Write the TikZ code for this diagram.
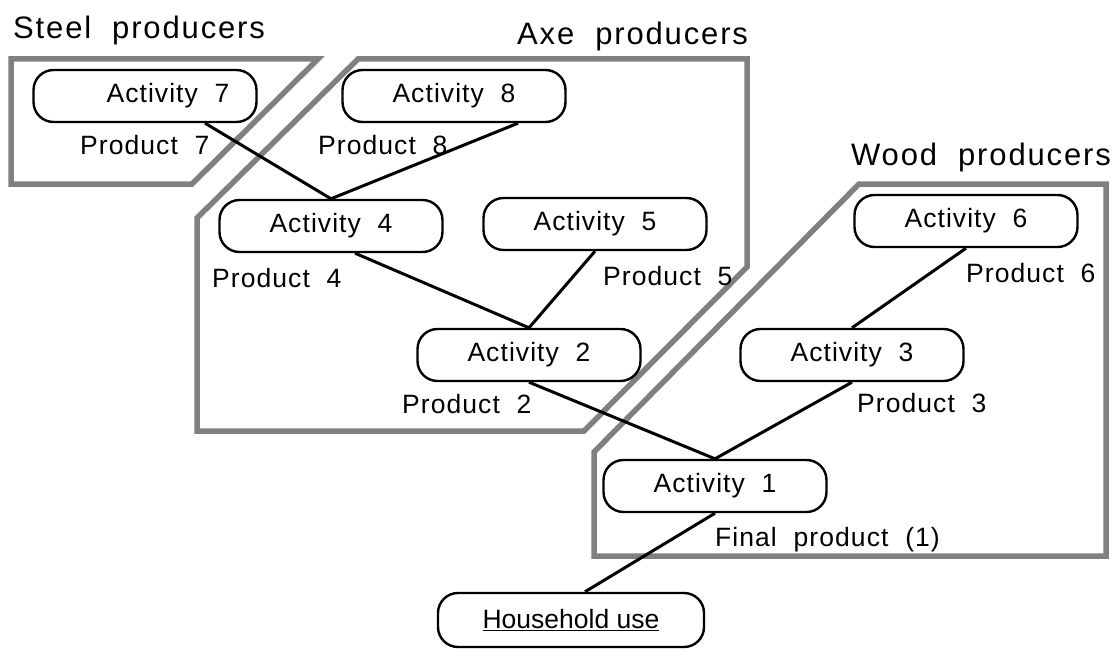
\documentclass[tikz,border=0pt]{standalone}
\usepackage{fontspec}
\setmainfont{Liberation Sans}
\newfontfamily\titlefont{Liberation Sans}[LetterSpace=6]
\newfontfamily\boxfont{Liberation Sans}[LetterSpace=4]

\begin{document}
\begin{tikzpicture}[x=1pt,y=-1pt,
  actK/.style={draw, line width=2.4pt, rounded corners=20pt, fill=white,
    minimum width=223pt, minimum height=52pt, inner sep=0pt,
    font=\boxfont\fontsize{26.5}{30}\selectfont},
  prodK/.style={anchor=base west, inner sep=0pt,
    font=\boxfont\fontsize{26.5}{30}\selectfont},
  groupK/.style={anchor=base west, inner sep=0pt,
    font=\titlefont\fontsize{31}{36}\selectfont},
  bandK/.style={draw=black!50, line width=5.5pt},
  linkK/.style={draw, line width=3pt}]

\useasboundingbox (0,0) rectangle (1114,650);

\begin{scope}
\draw [bandK] (11,59) -- (318,59) -- (192,184) -- (11,184) -- cycle;
\draw [bandK] (358,59) -- (747,59) -- (747,267) -- (584,431) -- (197,431) -- (197,218) -- cycle;
\draw [bandK] (859,184) -- (1106,184) -- (1106,556) -- (594,556) -- (594,452) -- cycle;

\node [groupK] (steel) at (13,39) {Steel~~producers};
\node [groupK] (axe) at (517,45) {Axe~~producers};
\node [groupK] (wood) at (851,165) {Wood~~producers};
\end{scope}

\node [actK] (act7) at (145,96) {\hspace*{46pt}Activity~~7};
\node [actK] (act8) at (454,96) {Activity~~8};
\node [actK] (act4) at (331,226) {Activity~~4};
\node [actK] (act5) at (595,224) {Activity~~5};
\node [actK] (act2) at (529,355) {Activity~~2};
\node [actK] (act6) at (966,221) {Activity~~6};
\node [actK] (act3) at (852,355) {Activity~~3};
\node [actK] (act1) at (715,486) {Activity~~1};
\node [actK, minimum width=266pt, minimum height=54pt, font=\fontsize{26.5}{30}\selectfont] (house) at (571,620) {\underline{Household use}};

\node [prodK] (prod7) at (80,155) {Product~~7};
\node [prodK] (prod8) at (318,155) {Product~~8};
\node [prodK] (prod4) at (212,287) {Product~~4};
\node [prodK] (prod5) at (603,285) {Product~~5};
\node [prodK] (prod2) at (402,413) {Product~~2};
\node [prodK] (prod6) at (966,282) {Product~~6};
\node [prodK] (prod3) at (857,412) {Product~~3};
\node [prodK] (prodF) at (715,546) {Final~~product~~(1)};

\draw [linkK] ([xshift=60pt]act7.south) -- (act4.north);
\draw [linkK] ([xshift=64pt]act8.south) -- (act4.north);
\draw [linkK] ([xshift=24pt]act4.south) -- (act2.north);
\draw [linkK] (act5.south) -- (act2.north);
\draw [linkK] (act2.south) -- (act1.north);
\draw [linkK] (act3.south) -- (act1.north);
\draw [linkK] (act6.south) -- (act3.north);
\draw [linkK] (act1.south) -- ([xshift=14pt]house.north);

\end{tikzpicture}
\end{document}
